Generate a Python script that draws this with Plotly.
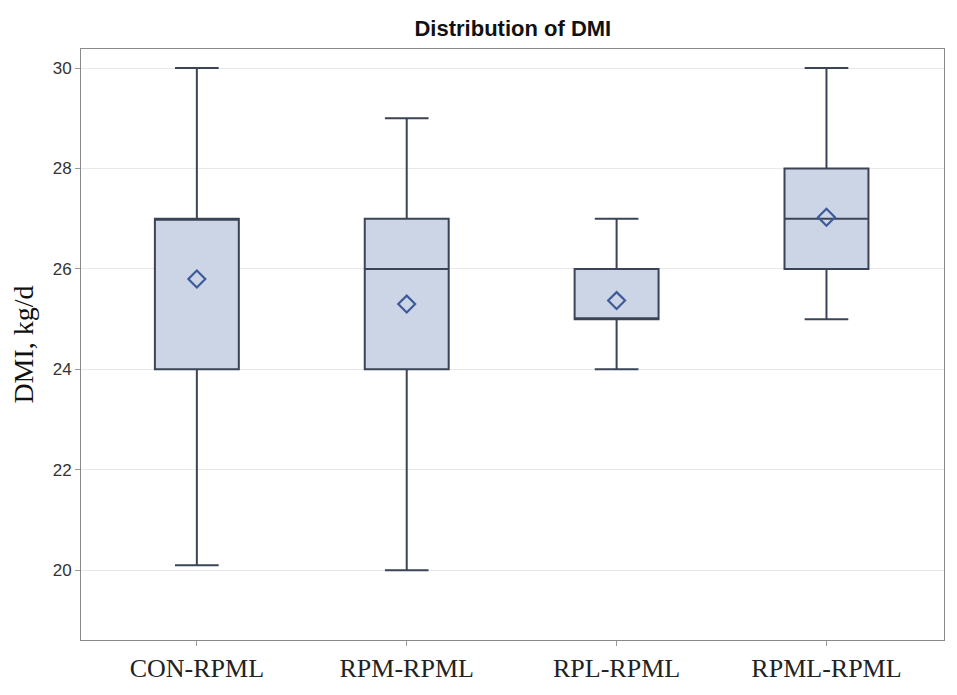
import plotly.graph_objects as go

groups = ["CON-RPML", "RPM-RPML", "RPL-RPML", "RPML-RPML"]
dmi_min = [20.1, 20.0, 24.0, 25.0]
dmi_q1 = [24.0, 24.0, 25.0, 26.0]
dmi_median = [27.0, 26.0, 25.0, 27.0]
dmi_q3 = [27.0, 27.0, 26.0, 28.0]
dmi_max = [30.0, 29.0, 27.0, 30.0]
dmi_mean = [25.8, 25.3, 25.37, 27.03]

fig = go.Figure()
fig.add_trace(go.Box(
    x=groups, q1=dmi_q1, median=dmi_median, q3=dmi_q3,
    lowerfence=dmi_min, upperfence=dmi_max,
    fillcolor="#cbd5e6", line=dict(color="#3a4456", width=2),
    width=0.4, whiskerwidth=0.52, boxpoints=False, showlegend=False,
))
fig.add_trace(go.Scatter(
    x=groups, y=dmi_mean, mode="markers", showlegend=False,
    marker=dict(symbol="diamond-open", size=13, color="#3f5a99", line=dict(width=2.2)),
))

# page body adds 8px offset, so the figure is a bit smaller than the window
fig.update_layout(
    width=949, height=687,
    margin=dict(l=73, r=12, t=41, b=53),
    paper_bgcolor="white", plot_bgcolor="white",
    title=dict(text="<b>Distribution of DMI</b>", x=0.532, xanchor="center",
               y=0.971, yanchor="middle",
               font=dict(family="Liberation Sans", size=22, color="#111")),
)
fig.update_xaxes(
    range=[-0.552, 3.56], showgrid=False, showline=True, linecolor="#8a8a8a", mirror=True,
    ticks="outside", ticklen=5, tickcolor="#999",
    tickfont=dict(family="Liberation Serif", size=26, color="#222"),
)
fig.update_yaxes(
    range=[18.61, 30.38], tickvals=[20, 22, 24, 26, 28, 30], showgrid=True, gridcolor="#e8e8e8",
    showline=True, linecolor="#8a8a8a", mirror=True, zeroline=False,
    ticks="outside", ticklen=5, tickcolor="#999",
    tickfont=dict(family="Liberation Sans Narrow, Liberation Sans", size=17, color="#333"),
    title=dict(text="DMI, kg/d", font=dict(family="Liberation Serif", size=28, color="#111"), standoff=12),
)

fig.write_html("out.html")
